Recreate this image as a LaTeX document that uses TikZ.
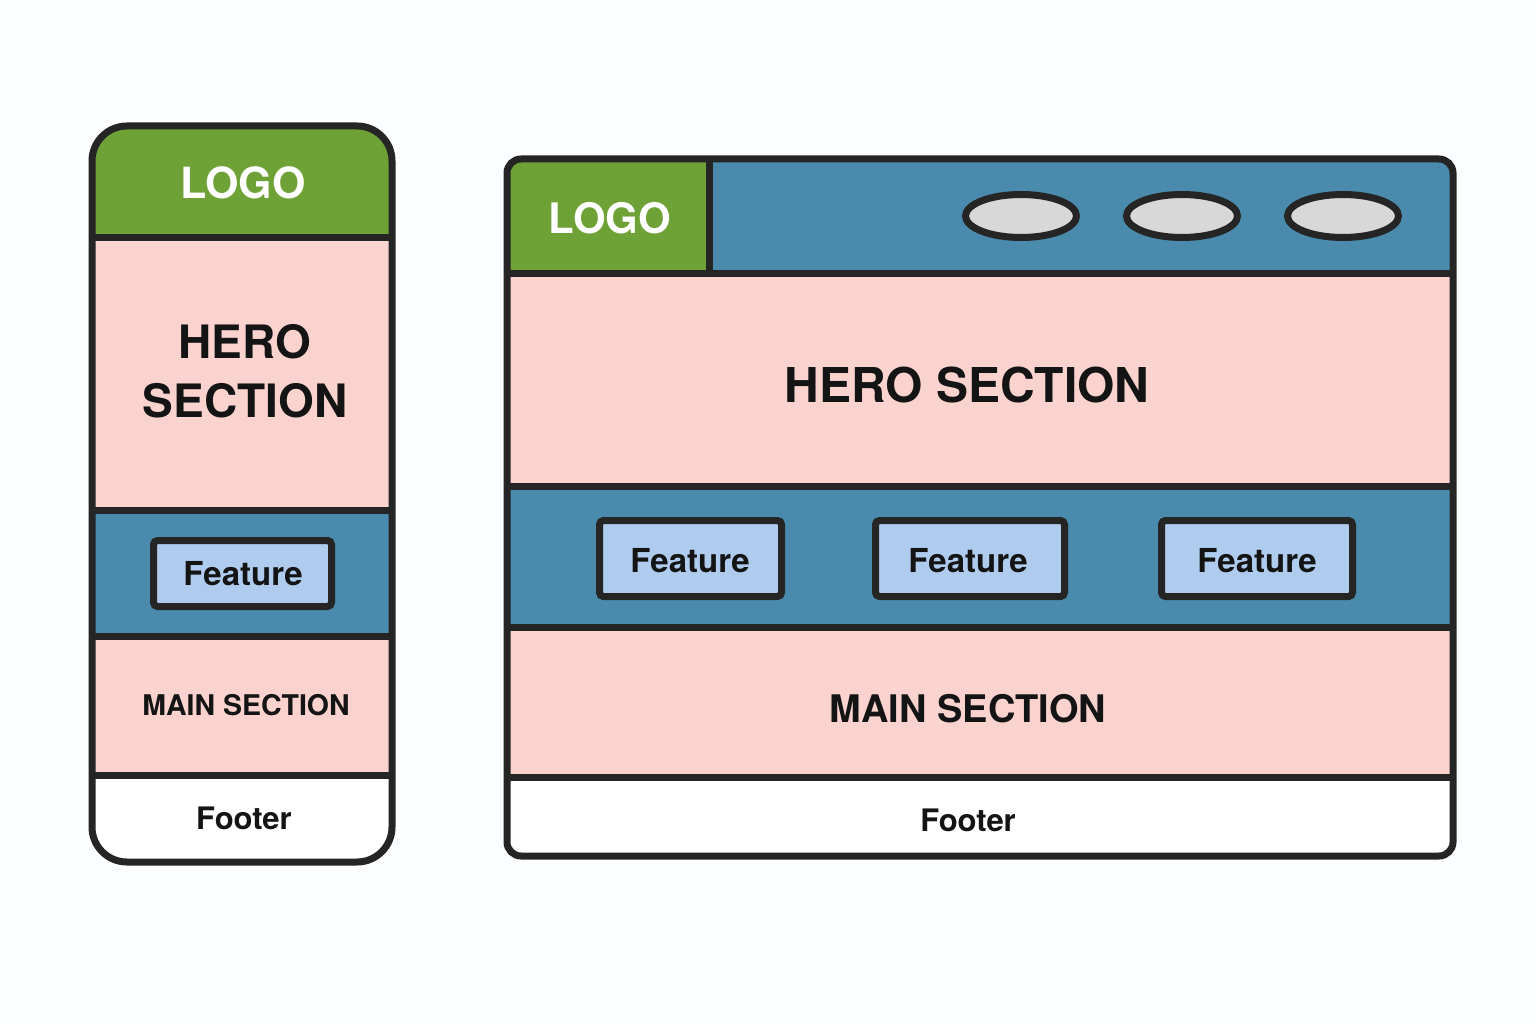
\documentclass[tikz,border=0pt]{standalone}
\usepackage{fontspec}
\setmainfont{TeX Gyre Heros}
\definecolor{bgc}{HTML}{FBFDFE}
\definecolor{ink}{HTML}{252525}
\definecolor{txt}{HTML}{141414}
\definecolor{leaf}{HTML}{6FA236}
\definecolor{sea}{HTML}{4A8BAD}
\definecolor{blush}{HTML}{FBD3CE}
\definecolor{sky}{HTML}{AFCCEE}
\definecolor{pebble}{HTML}{D8D8D8}
\tikzset{
  frameline/.style={draw=ink, line width=7pt},
  divider/.style={draw=ink, line width=7pt},
  featbox/.style={draw=ink, fill=sky, line width=7pt, rounded corners=4pt},
  navpill/.style={draw=ink, fill=pebble, line width=7pt},
  lbl/.style={inner sep=0pt, text=txt, font=\bfseries\fontsize{#1}{#1}\selectfont, align=center},
  lbl/.default=33pt,
  logotxt/.style={inner sep=0pt, text=white, font=\bfseries\fontsize{#1}{#1}\selectfont},
}
\begin{document}
\begin{tikzpicture}[x=1pt, y=-1pt]
\useasboundingbox (0,0) rectangle (1536,1024);
\fill[bgc] (0,0) rectangle (1536,1024);

% ---------- mobile layout ----------
\begin{scope}
  \clip[rounded corners=35pt] (92,126) rectangle (392,862);
  \fill[leaf]  (92,126) rectangle (392,238);
  \fill[blush] (92,238) rectangle (392,510);
  \fill[sea]   (92,510) rectangle (392,636);
  \fill[blush] (92,636) rectangle (392,775);
  \fill[white] (92,775) rectangle (392,862);
\end{scope}
\draw[divider] (92,238) -- (392,238);
\draw[divider] (92,510) -- (392,510);
\draw[divider] (92,636) -- (392,636);
\draw[divider] (92,775) -- (392,775);
\draw[frameline, rounded corners=35pt] (92,126) rectangle (392,862);

\node[logotxt=43pt] (mlogo) at (243,183) {LOGO};
\node[lbl=46pt] (mhero) at (245,371) {HERO\\[13pt]SECTION};
\draw[featbox] (153.5,540.5) rectangle (331.5,606.5);
\node[lbl=33pt] (mfeat) at (243,574) {Feature};
\node[lbl=28.5pt] (mmain) at (246,705) {MAIN SECTION};
\node[lbl=31pt] (mfoot) at (244,818) {Footer};

% ---------- desktop layout ----------
\begin{scope}
  \clip[rounded corners=14pt] (507,159) rectangle (1453,856);
  \fill[sea]   (507,159) rectangle (1453,274);
  \fill[leaf]  (507,159) rectangle (709,274);
  \fill[blush] (507,274) rectangle (1453,486);
  \fill[sea]   (507,486) rectangle (1453,627);
  \fill[blush] (507,627) rectangle (1453,777);
  \fill[white] (507,777) rectangle (1453,856);
\end{scope}
\draw[divider] (709,159) -- (709,274);
\draw[divider] (507,274) -- (1453,274);
\draw[divider] (507,486) -- (1453,486);
\draw[divider] (507,627) -- (1453,627);
\draw[divider] (507,777) -- (1453,777);
\draw[frameline, rounded corners=14pt] (507,159) rectangle (1453,856);

\node[logotxt=42pt] (dlogo) at (610,218) {LOGO};
\draw[navpill] (1021,216) ellipse [x radius=55.5pt, y radius=21.5pt];
\draw[navpill] (1182,216) ellipse [x radius=55.5pt, y radius=21.5pt];
\draw[navpill] (1343,216) ellipse [x radius=55.5pt, y radius=21.5pt];

\node[lbl=48pt] (dhero) at (967,385) {HERO SECTION};

\draw[featbox] (599.5,520.5) rectangle (781.5,596.5);
\draw[featbox] (875.5,520.5) rectangle (1064.5,596.5);
\draw[featbox] (1161.5,520.5) rectangle (1352.5,596.5);
\node[lbl=33pt] (dfeat1) at (690,561) {Feature};
\node[lbl=33pt] (dfeat2) at (968,561) {Feature};
\node[lbl=33pt] (dfeat3) at (1257,561) {Feature};

\node[lbl=38pt] (dmain) at (968,709) {MAIN SECTION};
\node[lbl=31pt] (dfoot) at (968,820) {Footer};
\end{tikzpicture}
\end{document}
